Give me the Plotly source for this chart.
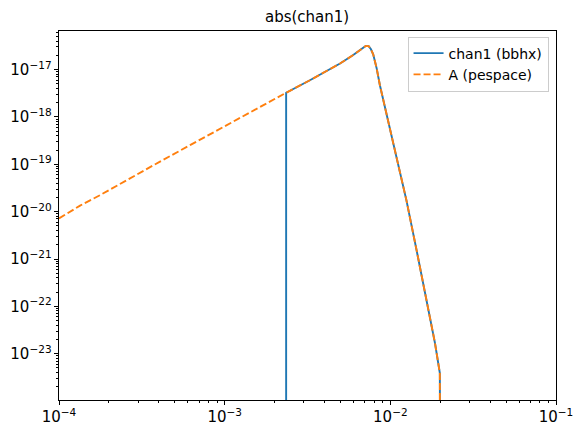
import plotly.graph_objects as go

# Частота, Гц, и модуль отклика канала A (оценка по картинке)
freq_pespace = [1.00e-4, 1.34e-4, 1.77e-4, 2.68e-4, 4.07e-4, 6.18e-4, 9.38e-4,
                1.42e-3, 2.35e-3, 3.27e-3, 4.97e-3, 5.94e-3, 6.56e-3, 6.85e-3,
                7.10e-3, 7.40e-3, 7.64e-3, 7.88e-3, 8.27e-3, 8.65e-3, 9.27e-3,
                1.04e-2, 1.17e-2, 1.25e-2, 1.44e-2, 1.66e-2, 1.86e-2, 1.99e-2,
                2.01e-2]
amp_pespace = [7.2e-21, 1.34e-20, 2.23e-20, 5.09e-20, 1.14e-19, 2.53e-19, 5.64e-19,
               1.26e-18, 3.24e-18, 5.94e-18, 1.34e-17, 2.00e-17, 2.55e-17, 2.95e-17,
               3.15e-17, 3.12e-17, 2.68e-17, 2.10e-17, 1.06e-17, 4.65e-18, 1.63e-18,
               3.22e-19, 4.61e-20, 1.75e-20, 1.54e-21, 1.36e-22, 1.68e-23, 3.92e-24,
               1e-30]

# bbhx: нули ниже ~2.35e-3 Гц, дальше совпадает с pespace
freq_bbhx = [2.35e-3] + freq_pespace[8:]
amp_bbhx = [1e-30] + amp_pespace[8:]

FONT = "DejaVu Sans"

fig = go.Figure()
fig.add_trace(go.Scatter(x=freq_bbhx, y=amp_bbhx, mode="lines", name="chan1 (bbhx)",
                         line=dict(color="#1f77b4", width=1.9)))
fig.add_trace(go.Scatter(x=freq_pespace, y=amp_pespace, mode="lines", name="A (pespace)",
                         line=dict(color="#ff7f0e", width=1.9, dash="7px,3px")))

axis = dict(type="log", showgrid=False, zeroline=False, showline=True, mirror=True,
            linecolor="black", linewidth=1, ticks="outside", ticklen=4, tickwidth=1,
            tickcolor="black", dtick=1, exponentformat="power", automargin=False,
            tickfont=dict(family=FONT, size=12, color="black"),
            minor=dict(ticks="outside", ticklen=2, tickwidth=0.8, tickcolor="black",
                       showgrid=False))

# страница добавляет отступ body 8px, поэтому фигура чуть меньше окна
fig.update_layout(
    width=573, height=430,
    margin=dict(l=51, r=25, t=23, b=38),
    paper_bgcolor="white", plot_bgcolor="white",
    font=dict(family=FONT, size=13, color="black"),
    title=dict(text="abs(chan1)", x=0.522, xanchor="center", y=0.979, yanchor="middle",
               font=dict(family=FONT, size=15, color="black")),
    xaxis=dict(axis, range=[-4, -1]),
    yaxis=dict(axis, range=[-23.977, -16.186]),
    legend=dict(x=0.985, xanchor="right", y=0.985, yanchor="top",
                bgcolor="rgba(255,255,255,0.8)", bordercolor="#cccccc", borderwidth=1,
                font=dict(family=FONT, size=14, color="black")),
    showlegend=True,
)

fig.write_html("out.html")
